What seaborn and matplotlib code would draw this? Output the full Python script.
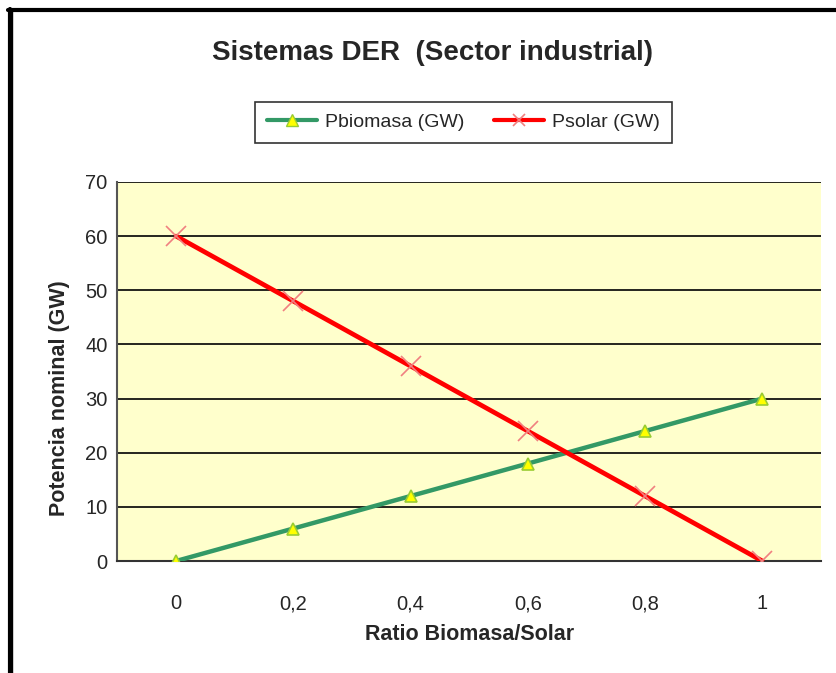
import matplotlib
matplotlib.use("Agg")
import matplotlib.pyplot as plt
import seaborn as sns
import pandas as pd
from matplotlib.lines import Line2D

# Data
ratio = [0, 0.2, 0.4, 0.6, 0.8, 1.0]
ratio_labels = ["0", "0,2", "0,4", "0,6", "0,8", "1"]
p_biomasa = [0, 6, 12, 18, 24, 30]
p_solar = [60, 48, 36, 24, 12, 0]

sns.set_style("white")
plt.rcParams["font.family"] = ["Liberation Sans", "DejaVu Sans"]

df = pd.DataFrame({"ratio": ratio, "Pbiomasa (GW)": p_biomasa, "Psolar (GW)": p_solar})

fig = plt.figure(figsize=(8.36, 6.73), dpi=100)
ax = fig.add_axes([0.1405, 0.1664, 0.8415, 0.5632])
ax.set_facecolor("#FFFFCC")

sns.lineplot(data=df, x="ratio", y="Pbiomasa (GW)", ax=ax, color="#339966", lw=3.2,
             marker="^", markersize=9, markerfacecolor="#FFFF00",
             markeredgecolor="#99CC33", markeredgewidth=1.2, zorder=3)
sns.lineplot(data=df, x="ratio", y="Psolar (GW)", ax=ax, color="#FF0000", lw=3.4,
             marker="x", markersize=14, markeredgecolor="#F08080",
             markeredgewidth=1.2, zorder=4)

ax.set_xlim(-0.1, 1.1)
ax.set_ylim(0, 70)
ax.set_yticks(range(0, 71, 10))
ax.set_xticks(ratio)
ax.set_xticklabels(ratio_labels)
ax.set_xticks([r - 0.1 for r in ratio] + [1.1], minor=True)
ax.tick_params(axis="x", which="major", length=0, pad=24, labelsize=14.5)
ax.tick_params(axis="x", which="minor", length=5, width=1.2, color="#555555", direction="out")
ax.tick_params(axis="y", length=5, width=1.2, color="#555555", direction="out", labelsize=14.5, pad=2)
ax.yaxis.grid(True, color="black", lw=1.2)
ax.set_axisbelow(True)

for s in ["top", "right"]:
    ax.spines[s].set_visible(False)
ax.spines["left"].set_color("#555555")
ax.spines["left"].set_linewidth(1.5)
ax.spines["bottom"].set_color("#333333")
ax.spines["bottom"].set_linewidth(1.5)

ax.set_xlabel("Ratio Biomasa/Solar", fontsize=15.5, fontweight="bold")
ax.set_ylabel("Potencia nominal (GW)", fontsize=15.5, fontweight="bold")
ax.xaxis.set_label_coords(0.5, -0.166)
ax.yaxis.set_label_coords(-0.067, 0.43)

fig.text(0.517, 0.921, "Sistemas DER  (Sector industrial)", ha="center", va="center",
         fontsize=20, fontweight="bold")

handles = [
    Line2D([], [], color="#339966", lw=3, marker="^", markersize=8,
           markerfacecolor="#FFFF00", markeredgecolor="#99CC33"),
    Line2D([], [], color="#FF0000", lw=3, marker="x", markersize=9,
           markeredgecolor="#F08080", markeredgewidth=1.2),
]
leg = fig.legend(handles, ["Pbiomasa (GW)", "Psolar (GW)"], loc="center",
                 bbox_to_anchor=(0.5544, 0.818), ncol=2, frameon=True, fancybox=False,
                 fontsize=14, handlelength=2.6, handletextpad=0.4, columnspacing=1.5,
                 borderpad=0.6)
leg.get_frame().set_edgecolor("black")
leg.get_frame().set_linewidth(1.2)

# outer chart border
fig.add_artist(Line2D([0.009, 1.0], [0.985, 0.985], color="black", lw=3, transform=fig.transFigure))
fig.add_artist(Line2D([0.0115, 0.0115], [0.0, 0.987], color="black", lw=3, transform=fig.transFigure))
fig.add_artist(Line2D([0.0145, 0.0145], [0.0, 0.983], color="black", lw=1, transform=fig.transFigure))

fig.savefig("out.png", dpi=100)
